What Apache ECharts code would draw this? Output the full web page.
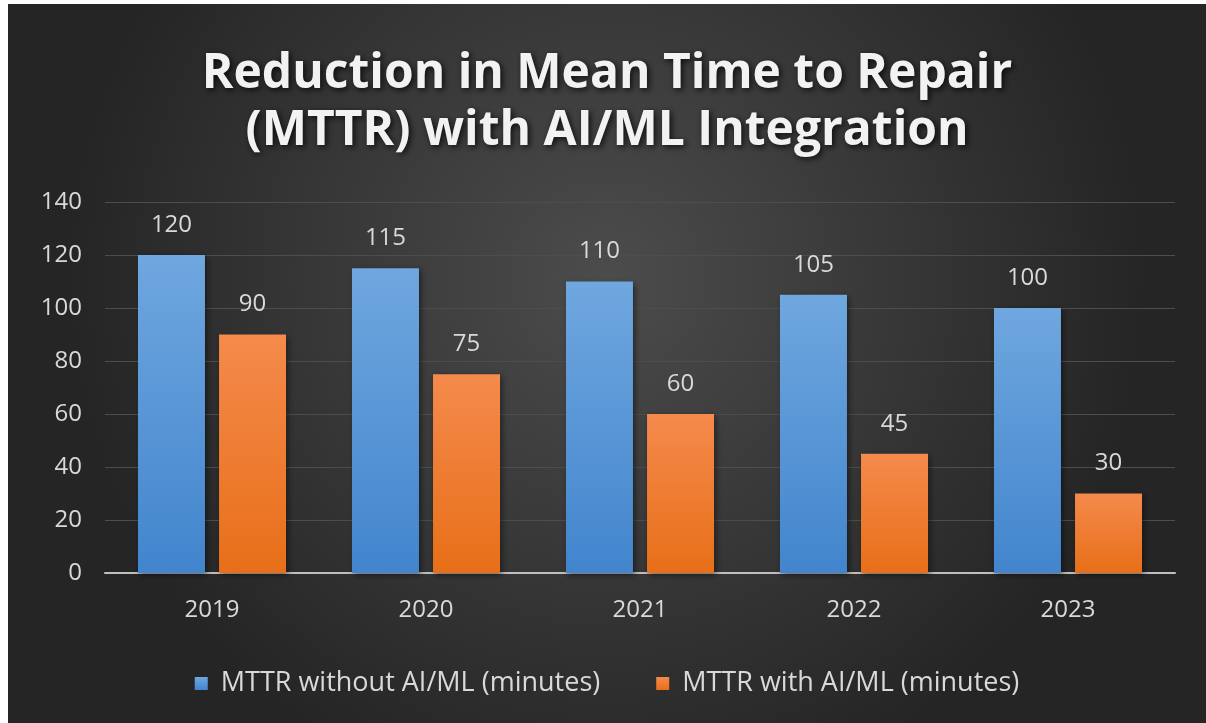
<!DOCTYPE html>
<html>
<head>
<meta charset="utf-8">
<script src="https://cdn.jsdelivr.net/npm/echarts@6/dist/echarts.min.js"></script>
<style>
html,body{margin:0;padding:0;background:#ffffff;width:1206px;height:723px;overflow:hidden;}
#chart{position:absolute;left:8px;top:4px;width:1198px;height:719px;}
</style>
</head>
<body>
<div id="chart"></div>
<script>
const titleText = 'Reduction in Mean Time to Repair\n(MTTR) with AI/ML Integration';
const categories = ['2019', '2020', '2021', '2022', '2023'];
const seriesNames = ['MTTR without AI/ML (minutes)', 'MTTR with AI/ML (minutes)'];
const withoutAI = [120, 115, 110, 105, 100];
const withAI = [90, 75, 60, 45, 30];
const yTicks = {min: 0, max: 140, interval: 20};

const chart = echarts.init(document.getElementById('chart'));
const font = 'Open Sans';
const txt = '#d9d9d9';
const blueGrad = new echarts.graphic.LinearGradient(0, 0, 0, 1, [
  {offset: 0, color: '#6fa7df'}, {offset: 1, color: '#4285cd'}]);
const orangeGrad = new echarts.graphic.LinearGradient(0, 0, 0, 1, [
  {offset: 0, color: '#f48a4c'}, {offset: 1, color: '#e86f18'}]);

chart.setOption({
  backgroundColor: new echarts.graphic.RadialGradient(0.5, 0.38, 0.75, [
    {offset: 0, color: '#4c4c4c'}, {offset: 1, color: '#252525'}]),
  title: {
    text: titleText,
    left: 'center',
    top: 37,
    textStyle: {
      color: '#f2f2f2', fontFamily: font, fontWeight: 'bold', fontSize: 48,
      lineHeight: 57, textShadowColor: 'rgba(0,0,0,0.8)', textShadowBlur: 6,
      textShadowOffsetX: 2, textShadowOffsetY: 2
    }
  },
  legend: {
    bottom: 21,
    left: 'center',
    itemWidth: 13, itemHeight: 13, itemGap: 56,
    icon: 'rect',
    textStyle: {color: txt, fontFamily: font, fontSize: 27, padding: [0, 0, 0, 8]},
    data: seriesNames
  },
  grid: {left: 97, right: 31, top: 198, bottom: 150},
  xAxis: {
    type: 'category',
    data: categories,
    axisLine: {lineStyle: {color: '#bfbfbf', width: 2}},
    axisTick: {show: false},
    axisLabel: {color: txt, fontFamily: font, fontSize: 24, margin: 25}
  },
  yAxis: {
    type: 'value',
    min: yTicks.min, max: yTicks.max, interval: yTicks.interval,
    axisLine: {show: false},
    axisTick: {show: false},
    splitLine: {lineStyle: {color: '#4d4d4d', width: 1}},
    axisLabel: {color: txt, fontFamily: font, fontSize: 24, margin: 23}
  },
  series: [
    {
      name: seriesNames[0], type: 'bar', data: withoutAI,
      barWidth: 67, barGap: '21%',
      itemStyle: {color: blueGrad, shadowColor: 'rgba(0,0,0,0.5)', shadowBlur: 6, shadowOffsetX: 2, shadowOffsetY: 2},
      label: {show: true, position: 'top', distance: 18, color: txt, fontFamily: font, fontSize: 24}
    },
    {
      name: seriesNames[1], type: 'bar', data: withAI,
      barWidth: 67,
      itemStyle: {color: orangeGrad, shadowColor: 'rgba(0,0,0,0.5)', shadowBlur: 6, shadowOffsetX: 2, shadowOffsetY: 2},
      label: {show: true, position: 'top', distance: 18, color: txt, fontFamily: font, fontSize: 24}
    }
  ]
});
</script>
</body>
</html>
